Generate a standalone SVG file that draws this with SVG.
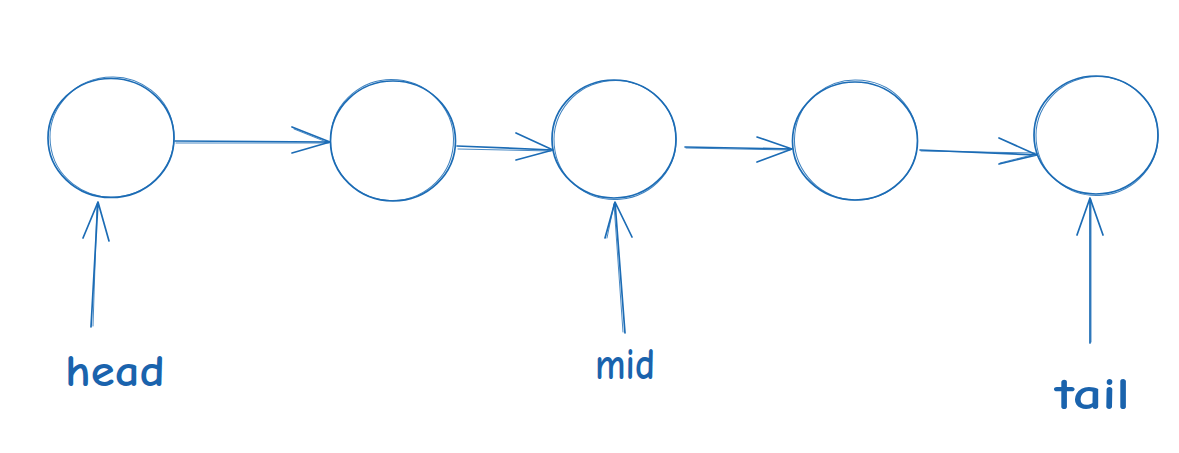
<svg xmlns="http://www.w3.org/2000/svg" width="1179" height="453" viewBox="0 0 1179 453">
  <style>
    .ring { fill: none; stroke: #1c6cb5; stroke-width: 1.7; stroke-linecap: round; }
    .ring2 { fill: none; stroke: #1c6cb5; stroke-width: 1; stroke-linecap: round; opacity: 0.85; }
    .edge { fill: none; stroke: #1c6cb5; stroke-width: 1.7; stroke-linecap: round; stroke-linejoin: round; }
    .edge2 { fill: none; stroke: #1c6cb5; stroke-width: 1; stroke-linecap: round; opacity: 0.8; }
    .label { fill: #1a63ad; font-family: "Comic Neue", "Lato", "DejaVu Sans", sans-serif; font-size: 44px; font-weight: 700; }
  </style>
  <rect width="1179" height="453" fill="#ffffff"/>

  <!-- list nodes: each circle is traced twice for a hand-drawn look -->
  <g id="node-head">
    <ellipse class="ring" cx="111" cy="138" rx="63" ry="59.5"/>
    <ellipse class="ring2" cx="112" cy="137" rx="62" ry="60" transform="rotate(-6 112 137)"/>
  </g>
  <g id="node-2">
    <ellipse class="ring" cx="393" cy="141" rx="62.5" ry="60"/>
    <ellipse class="ring2" cx="392" cy="140" rx="61.5" ry="60.5" transform="rotate(5 392 140)"/>
  </g>
  <g id="node-mid">
    <ellipse class="ring" cx="614" cy="139" rx="62" ry="59"/>
    <ellipse class="ring2" cx="615" cy="140" rx="61" ry="59.5" transform="rotate(-5 615 140)"/>
  </g>
  <g id="node-4">
    <ellipse class="ring" cx="855" cy="141" rx="62.5" ry="59"/>
    <ellipse class="ring2" cx="856" cy="140" rx="61.5" ry="60" transform="rotate(6 856 140)"/>
  </g>
  <g id="node-tail">
    <ellipse class="ring" cx="1096" cy="135" rx="62" ry="59"/>
    <ellipse class="ring2" cx="1097" cy="136" rx="61" ry="59.5" transform="rotate(-5 1097 136)"/>
  </g>

  <!-- next pointers and head/mid/tail references -->
  <g id="connectors">
    <path class="edge" d="M175 141 L330 142 M292 127 L330 142 L292 153"/>
    <path class="edge2" d="M176 143 L328 143 M294 129 L329 143"/>

    <path class="edge" d="M457 146 L553 150 M516 133 L553 150 L516 160"/>
    <path class="edge2" d="M458 149 L551 151"/>

    <path class="edge" d="M685 147 L792 149 M757 137 L792 149 L757 162"/>
    <path class="edge2" d="M686 148 L790 150"/>

    <path class="edge" d="M920 150 L1037 155 M999 138 L1037 155 L999 164"/>
    <path class="edge2" d="M921 151 L1035 153 M1000 163 L1036 154"/>

    <path class="edge" d="M91 327 L98 202 M83 238 L98 202 L109 241"/>
    <path class="edge2" d="M93 326 L97 204"/>

    <path class="edge" d="M625 333 L615 202 M605 238 L615 202 L632 237"/>
    <path class="edge2" d="M623 332 L614 204 M607 238 L614 204"/>

    <path class="edge" d="M1090 343 L1090 198 M1077 235 L1090 198 L1103 235"/>
    <path class="edge2" d="M1091 342 L1091 200"/>
  </g>

  <g id="label-head"><text class="label" x="65" y="386" textLength="100" lengthAdjust="spacingAndGlyphs">head</text></g>
  <g id="label-mid"><text class="label" x="595" y="379" textLength="60" lengthAdjust="spacingAndGlyphs">mid</text></g>
  <g id="label-tail"><text class="label" x="1055" y="409" textLength="75" lengthAdjust="spacingAndGlyphs">tail</text></g>
</svg>
